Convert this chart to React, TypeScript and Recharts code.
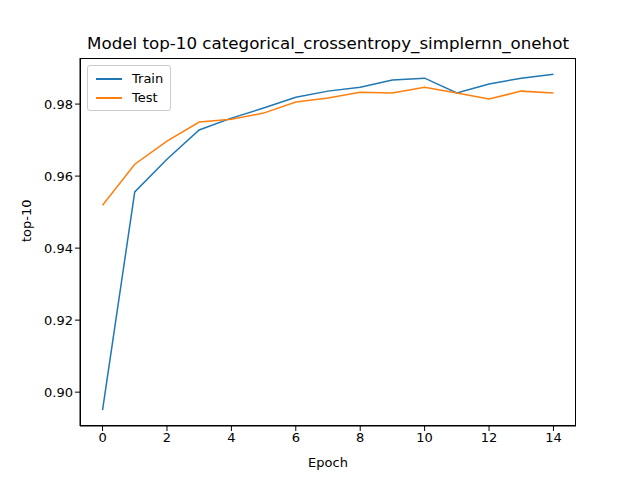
import * as React from "react";
import { LineChart, Line, XAxis, YAxis } from "recharts";

const epochs = [0, 1, 2, 3, 4, 5, 6, 7, 8, 9, 10, 11, 12, 13, 14];
const train = [0.895, 0.9556, 0.9647, 0.9728, 0.9761, 0.9789, 0.9819, 0.9836, 0.9847, 0.9867, 0.9872, 0.9831, 0.9856, 0.9872, 0.9883];
const test = [0.9519, 0.9633, 0.9697, 0.975, 0.9758, 0.9775, 0.9806, 0.9817, 0.9833, 0.9831, 0.9847, 0.9831, 0.9814, 0.9836, 0.9831];
const xTicks = [0, 2, 4, 6, 8, 10, 12, 14];
const yTicks = [0.9, 0.92, 0.94, 0.96, 0.98];

const data = epochs.map((e, i) => ({ epoch: e, train: train[i], test: test[i] }));
const font = "DejaVu Sans, sans-serif";

const App = () => {
  return (
    <div style={{ position: "absolute", left: 0, top: 0, width: 640, height: 480, background: "#fff", fontFamily: font }}>
      <div style={{ position: "absolute", top: 33, left: 80, width: 496, textAlign: "center", fontSize: 16.7, color: "#000" }}>
        Model top-10 categorical_crossentropy_simplernn_onehot
      </div>
      <LineChart width={640} height={480} data={data} margin={{ top: 58, right: 64, bottom: 24, left: 10 }}>
        <XAxis
          dataKey="epoch"
          type="number"
          domain={[-0.7, 14.7]}
          ticks={xTicks}
          tickSize={5}
          stroke="#000"
          tick={{ fill: "#000", fontSize: 13, fontFamily: font }}
          height={30}
          label={{ value: "Epoch", position: "insideBottom", offset: -11, fill: "#000", fontSize: 13, fontFamily: font }}
        />
        <YAxis
          type="number"
          domain={[0.8906, 0.9928]}
          ticks={yTicks}
          tickFormatter={(v: number) => v.toFixed(2)}
          tickSize={5}
          stroke="#000"
          width={70}
          tick={{ fill: "#000", fontSize: 13, fontFamily: font }}
          label={{ value: "top-10", angle: -90, position: "insideLeft", offset: 16, fill: "#000", fontSize: 13, fontFamily: font }}
        />
        <Line dataKey="train" stroke="#1f77b4" strokeWidth={1.5} dot={false} isAnimationActive={false} />
        <Line dataKey="test" stroke="#ff7f0e" strokeWidth={1.5} dot={false} isAnimationActive={false} />
      </LineChart>
      <div style={{ position: "absolute", left: 80, top: 58, width: 496, height: 368, border: "1px solid #000", boxSizing: "border-box", pointerEvents: "none" }} />
      <div style={{ position: "absolute", left: 87, top: 65, width: 84, height: 46, border: "1px solid #ccc", borderRadius: 3, boxSizing: "border-box", fontSize: 13, background: "rgba(255,255,255,0.8)" }}>
        <div style={{ position: "absolute", left: 8, top: 5, display: "flex", alignItems: "center" }}>
          <span style={{ display: "inline-block", width: 26, height: 2, background: "#1f77b4", marginRight: 10 }} />Train
        </div>
        <div style={{ position: "absolute", left: 8, top: 24, display: "flex", alignItems: "center" }}>
          <span style={{ display: "inline-block", width: 26, height: 2, background: "#ff7f0e", marginRight: 10 }} />Test
        </div>
      </div>
    </div>
  );
};

export default App;
